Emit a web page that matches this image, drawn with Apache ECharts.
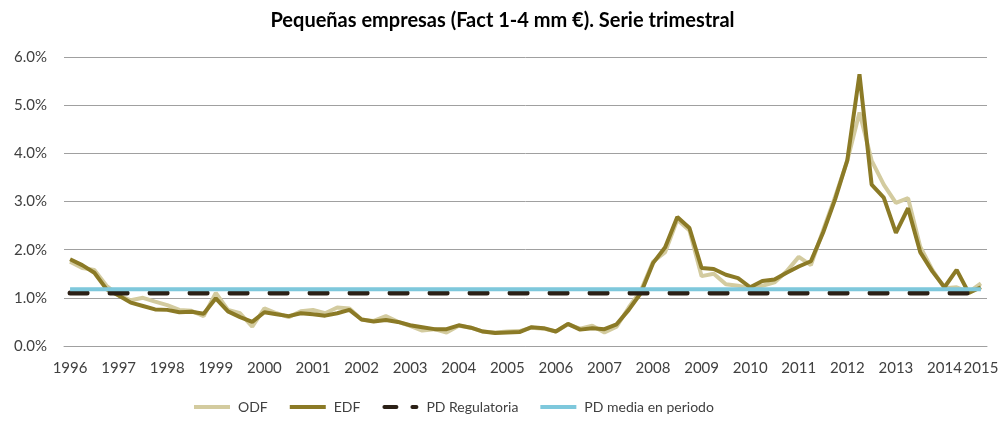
<!DOCTYPE html>
<html>
<head>
<meta charset="utf-8">
<script src="https://cdn.jsdelivr.net/npm/echarts@6/dist/echarts.min.js"></script>
<style>
  html, body { margin: 0; padding: 0; background: #fff; }
  #lineCharts { width: 1005px; height: 421px; }
</style>
</head>
<body>
<div id="lineCharts"></div>
<script>
  // quarterly categories, 1996 T1 .. 2014 T3 plus 2015 T1
  var quarters = [
    '1996 T1','1996 T2','1996 T3','1996 T4','1997 T1','1997 T2','1997 T3','1997 T4',
    '1998 T1','1998 T2','1998 T3','1998 T4','1999 T1','1999 T2','1999 T3','1999 T4',
    '2000 T1','2000 T2','2000 T3','2000 T4','2001 T1','2001 T2','2001 T3','2001 T4',
    '2002 T1','2002 T2','2002 T3','2002 T4','2003 T1','2003 T2','2003 T3','2003 T4',
    '2004 T1','2004 T2','2004 T3','2004 T4','2005 T1','2005 T2','2005 T3','2005 T4',
    '2006 T1','2006 T2','2006 T3','2006 T4','2007 T1','2007 T2','2007 T3','2007 T4',
    '2008 T1','2008 T2','2008 T3','2008 T4','2009 T1','2009 T2','2009 T3','2009 T4',
    '2010 T1','2010 T2','2010 T3','2010 T4','2011 T1','2011 T2','2011 T3','2011 T4',
    '2012 T1','2012 T2','2012 T3','2012 T4','2013 T1','2013 T2','2013 T3','2013 T4',
    '2014 T1','2014 T2','2014 T3','2015 T1'
  ];

  // values in %
  var odf = [
    1.75, 1.62, 1.58, 1.25, 1.05, 0.95, 1.00, 0.92, 0.85, 0.75, 0.73, 0.62,
    1.10, 0.75, 0.68, 0.40, 0.78, 0.68, 0.60, 0.72, 0.75, 0.68, 0.80, 0.78,
    0.55, 0.52, 0.62, 0.50, 0.42, 0.32, 0.35, 0.28, 0.42, 0.38, 0.30, 0.28,
    0.30, 0.31, 0.38, 0.36, 0.30, 0.45, 0.36, 0.42, 0.28, 0.40, 0.80, 1.15,
    1.75, 1.95, 2.62, 2.40, 1.45, 1.50, 1.28, 1.25, 1.20, 1.25, 1.32, 1.55,
    1.85, 1.68, 2.40, 3.10, 3.85, 4.85, 3.85, 3.35, 2.97, 3.07, 2.06, 1.58,
    1.20, 1.22, 1.12, 1.30
  ];
  var edf = [
    1.80, 1.68, 1.52, 1.18, 1.05, 0.90, 0.83, 0.76, 0.75, 0.70, 0.71, 0.67,
    0.99, 0.72, 0.60, 0.50, 0.70, 0.66, 0.62, 0.68, 0.66, 0.63, 0.68, 0.75,
    0.55, 0.51, 0.54, 0.50, 0.43, 0.39, 0.35, 0.35, 0.43, 0.38, 0.30, 0.27,
    0.28, 0.29, 0.39, 0.37, 0.30, 0.46, 0.34, 0.37, 0.35, 0.45, 0.75, 1.10,
    1.72, 2.05, 2.68, 2.45, 1.62, 1.60, 1.48, 1.41, 1.22, 1.35, 1.38, 1.52,
    1.65, 1.76, 2.35, 3.05, 3.86, 5.64, 3.35, 3.08, 2.35, 2.86, 1.95, 1.55,
    1.22, 1.58, 1.10, 1.22
  ];
  var pdRegulatoria = 1.10;
  var pdMedia = 1.18;

  var yTicks = [0, 1, 2, 3, 4, 5, 6];

  var colODF = '#d3cb9f';
  var colEDF = '#8b7a26';
  var colReg = '#2b2016';
  var colMedia = '#7ec8dc';

  var chart = echarts.init(document.getElementById('lineCharts'));

  var option = {
    backgroundColor: '#ffffff',
    textStyle: { fontFamily: 'Lato' },
    title: {
      text: 'Pequeñas empresas (Fact 1-4 mm €). Serie trimestral',
      left: 'center',
      top: 6,
      textStyle: {
        fontFamily: 'Lato',
        fontWeight: 'bold',
        fontSize: 20,
        color: '#000000'
      }
    },
    legend: {
      bottom: 2,
      left: 189,
      itemWidth: 36,
      itemHeight: 4,
      itemGap: 22,
      textStyle: { fontSize: 14, color: '#404040', fontFamily: 'Lato', padding: [0, 0, 0, 3] },
      data: [
        { name: 'ODF', icon: 'rect', itemStyle: { color: colODF } },
        { name: 'EDF', icon: 'rect', itemStyle: { color: colEDF } },
        {
          name: 'PD Regulatoria',
          icon: 'path://M2,0 H14 A2,2 0 0 1 14,4 H2 A2,2 0 0 1 2,0 Z M30,0 H34 A2,2 0 0 1 34,4 H30 A2,2 0 0 1 30,0 Z',
          itemStyle: { color: colReg }
        },
        { name: 'PD media en periodo', icon: 'rect', itemStyle: { color: colMedia } }
      ]
    },
    grid: {
      left: 64,
      right: 18,
      top: 57,
      bottom: 75
    },
    xAxis: {
      type: 'category',
      boundaryGap: true,
      data: quarters,
      axisLine: { show: true, lineStyle: { color: '#a0a0a0', width: 1 } },
      axisTick: { show: false },
      axisLabel: {
        margin: 15,
        fontSize: 15,
        color: '#404040',
        fontFamily: 'Lato',
        interval: function (idx, val) {
          return val.slice(5) === 'T1';
        },
        formatter: function (val) {
          return val.slice(0, 4);
        }
      }
    },
    yAxis: {
      type: 'value',
      min: yTicks[0],
      max: yTicks[yTicks.length - 1],
      interval: 1,
      axisLine: { show: false },
      axisTick: { show: false },
      axisLabel: {
        margin: 17,
        fontSize: 15,
        color: '#404040',
        fontFamily: 'Lato',
        formatter: function (v) { return v.toFixed(1) + '%'; }
      },
      splitLine: { lineStyle: { color: '#a0a0a0', width: 1 } }
    },
    series: [
      {
        name: 'ODF',
        type: 'line',
        data: odf,
        symbol: 'none',
        lineStyle: { color: colODF, width: 4 },
        itemStyle: { color: colODF }
      },
      {
        name: 'EDF',
        type: 'line',
        data: edf,
        symbol: 'none',
        lineStyle: { color: colEDF, width: 4 },
        itemStyle: { color: colEDF }
      },
      {
        name: 'PD Regulatoria',
        type: 'line',
        data: quarters.map(function () { return pdRegulatoria; }),
        symbol: 'none',
        lineStyle: { color: colReg, width: 5, type: [17, 23], cap: 'round' },
        itemStyle: { color: colReg }
      },
      {
        name: 'PD media en periodo',
        type: 'line',
        data: quarters.map(function () { return pdMedia; }),
        symbol: 'none',
        lineStyle: { color: colMedia, width: 4 },
        itemStyle: { color: colMedia }
      }
    ]
  };

  chart.setOption(option);
</script>
</body>
</html>
